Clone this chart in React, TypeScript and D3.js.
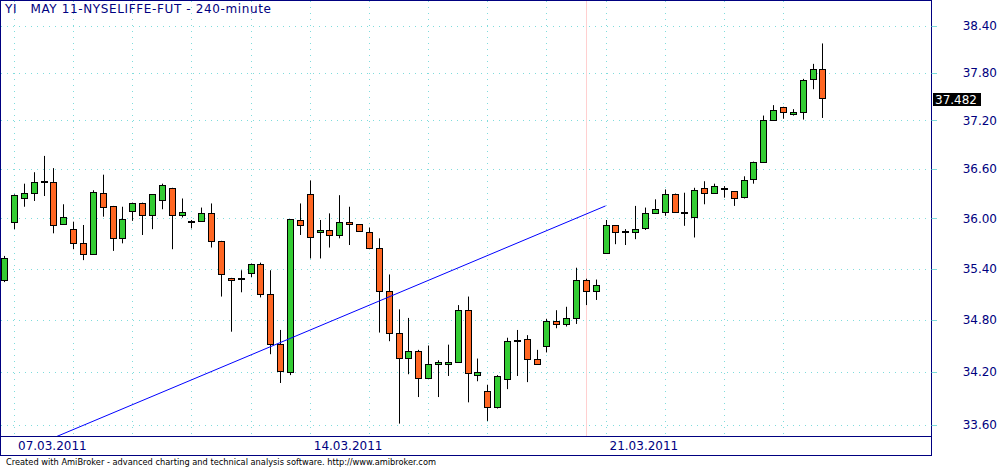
import React from 'react';
import * as d3 from 'd3';

const opens = [35.26, 35.96, 36.24, 36.31, 36.44, 36.44, 35.93, 35.87, 35.70, 35.57,
  36.31, 36.15, 35.76, 36.09, 36.19, 36.04, 36.22, 36.37, 36.04, 35.95,
  35.97, 36.07, 35.73, 35.29, 35.28, 35.35, 35.46, 35.10, 34.52, 34.20,
  35.98, 36.29, 35.84, 35.86, 35.80, 35.96, 35.93, 35.84, 35.64, 35.13,
  34.65, 34.36, 34.44, 34.13, 34.29, 34.29, 34.31, 34.91, 34.16, 33.98,
  33.80, 34.12, 34.55, 34.57, 34.34, 34.50, 34.78, 34.75, 34.82, 35.27,
  35.14, 35.59, 35.92, 35.84, 35.84, 35.88, 36.06, 36.08, 36.29, 36.08,
  36.02, 36.37, 36.31, 36.35, 36.33, 36.26, 36.48, 36.68, 37.21, 37.37,
  37.28, 37.31, 37.72, 37.84];
const highs = [35.55, 36.29, 36.42, 36.56, 36.76, 36.61, 36.17, 35.96, 35.92, 36.34,
  36.53, 36.15, 36.14, 36.19, 36.19, 36.29, 36.42, 36.37, 36.24, 35.98,
  36.13, 36.18, 35.73, 35.29, 35.38, 35.46, 35.47, 35.38, 34.68, 35.99,
  36.18, 36.46, 35.98, 36.06, 36.28, 36.14, 35.93, 35.89, 35.76, 35.33,
  34.92, 34.82, 34.45, 34.50, 34.33, 34.51, 34.97, 35.07, 34.35, 34.05,
  34.16, 34.59, 34.68, 34.62, 34.45, 34.81, 34.91, 34.95, 35.41, 35.28,
  35.27, 35.98, 35.92, 35.87, 36.15, 36.13, 36.23, 36.35, 36.30, 36.31,
  36.37, 36.45, 36.42, 36.39, 36.33, 36.51, 36.69, 37.26, 37.39, 37.37,
  37.34, 37.72, 37.91, 38.17];
const lows = [35.24, 35.87, 36.14, 36.21, 36.27, 35.82, 35.92, 35.63, 35.50, 35.57,
  36.02, 35.61, 35.70, 35.97, 35.80, 35.87, 36.11, 35.63, 36.01, 35.88,
  35.97, 35.65, 35.07, 34.66, 35.12, 35.30, 35.06, 34.40, 34.07, 34.16,
  35.80, 35.52, 35.52, 35.65, 35.76, 35.68, 35.85, 35.63, 34.65, 34.55,
  33.61, 34.17, 33.91, 34.13, 33.91, 34.15, 34.30, 33.85, 34.09, 33.64,
  33.78, 34.00, 34.15, 34.08, 34.29, 34.42, 34.70, 34.72, 34.75, 34.97,
  35.03, 35.59, 35.69, 35.68, 35.75, 35.86, 36.06, 36.03, 36.08, 35.91,
  35.77, 36.17, 36.31, 36.25, 36.15, 36.24, 36.42, 36.68, 37.21, 37.22,
  37.26, 37.21, 37.59, 37.23];
const closes = [35.53, 36.28, 36.31, 36.44, 36.44, 35.92, 36.02, 35.70, 35.57, 36.32,
  36.14, 35.76, 35.99, 36.19, 36.04, 36.29, 36.40, 36.04, 36.08, 35.95,
  36.07, 35.73, 35.33, 35.27, 35.28, 35.46, 35.10, 34.52, 34.21, 35.99,
  35.92, 35.77, 35.86, 35.80, 35.96, 35.93, 35.85, 35.64, 35.13, 34.65,
  34.36, 34.44, 34.13, 34.29, 34.31, 34.31, 34.91, 34.18, 34.20, 33.80,
  34.15, 34.55, 34.55, 34.34, 34.29, 34.79, 34.75, 34.82, 35.26, 35.14,
  35.20, 35.92, 35.84, 35.84, 35.87, 36.06, 36.11, 36.29, 36.08, 36.06,
  36.34, 36.31, 36.39, 36.35, 36.24, 36.46, 36.69, 37.20, 37.33, 37.31,
  37.31, 37.71, 37.84, 37.482];

const priceTicks = [33.6, 34.2, 34.8, 35.4, 36.0, 36.6, 37.2, 37.8, 38.4];
const dayStartBars = [1, 7, 13, 19, 25, 31, 37, 43, 49, 55, 61, 67, 73, 79];
const dateLabelBars = [1, 31, 61];
const dateLabelTexts = ['07.03.2011', '14.03.2011', '21.03.2011'];
const trendBars = [5, 61];
const trendPrices = [33.45, 36.15];
const selectorBar = 59;
const lastPrice = 37.482;
const title = 'YI   MAY 11-NYSELIFFE-FUT - 240-minute';
const credit = 'Created with AmiBroker - advanced charting and technical analysis software. http://www.amibroker.com';

const W = 1000;
const H = 467;
const plotL = 1;
const plotR = 931;
const plotT = 1;
const plotB = 436;
const navy = '#000080';
const gridCol = '#7FDCDC';
const upCol = '#33CC33';
const downCol = '#FF6622';
const font = 'DejaVu Sans, Verdana, sans-serif';

export default function App() {
  const x = d3.scaleLinear().domain([1, 79]).range([14, 783]);
  const y = d3.scaleLog().domain([33.6, 38.4]).range([424.5, 25.5]);
  const fmt = d3.format('.2f');
  const idx = d3.range(closes.length);
  const trendLine = d3.line<number>()
    .x((i) => x(trendBars[i]))
    .y((i) => y(trendPrices[i]));

  const lastY = y(lastPrice);

  return (
    <svg width={W} height={H} style={{ position: 'absolute', left: 0, top: 0, display: 'block', background: '#fff' }}>
      <defs>
        <clipPath id="plotClip">
          <rect x={plotL} y={plotT} width={plotR - plotL} height={plotB - plotT} />
        </clipPath>
      </defs>
      <rect x={0} y={0} width={W} height={H} fill="#fff" />

      {/* grid */}
      <g clipPath="url(#plotClip)">
        {priceTicks.map((t) => (
          <line key={'h' + t} x1={plotL} x2={plotR} y1={Math.round(y(t)) + 0.5} y2={Math.round(y(t)) + 0.5}
            stroke={gridCol} strokeWidth={1} strokeDasharray="1,5" />
        ))}
        {dayStartBars.map((b) => (
          <line key={'v' + b} x1={Math.round(x(b)) + 0.5} x2={Math.round(x(b)) + 0.5} y1={plotT} y2={plotB}
            stroke={gridCol} strokeWidth={1} strokeDasharray="1,5" />
        ))}
        <line x1={Math.round(x(selectorBar)) + 0.5} x2={Math.round(x(selectorBar)) + 0.5} y1={plotT} y2={plotB}
          stroke="#FFD0D0" strokeWidth={1} />
      </g>

      {/* candles */}
      <g clipPath="url(#plotClip)">
        {idx.map((i) => {
          const cx = Math.round(x(i));
          const o = opens[i];
          const c = closes[i];
          const yH = y(highs[i]);
          const yL = y(lows[i]);
          const yO = y(o);
          const yC = y(c);
          const top = Math.min(yO, yC);
          const bot = Math.max(yO, yC);
          const doji = Math.abs(bot - top) < 1;
          return (
            <g key={'c' + i}>
              <line x1={cx + 0.5} x2={cx + 0.5} y1={yH} y2={yL} stroke="#000" strokeWidth={1} />
              {doji ? (
                <rect x={cx - 3} y={Math.round(top) - 1} width={7} height={2} fill="#000" />
              ) : (
                <rect x={cx - 2.5} y={Math.round(top) + 0.5} width={6} height={Math.max(1, Math.round(bot) - Math.round(top))}
                  fill={c > o ? upCol : downCol} stroke="#000" strokeWidth={1} />
              )}
            </g>
          );
        })}
        <path d={trendLine([0, 1]) || ''} fill="none" stroke="#0000FF" strokeWidth={1} />
      </g>

      {/* frame */}
      <rect x={0.5} y={0.5} width={plotR} height={455} fill="none" stroke={navy} strokeWidth={1} />
      <line x1={0} x2={plotR + 0.5} y1={plotB + 0.5} y2={plotB + 0.5} stroke={navy} strokeWidth={1} />

      {/* title */}
      <text x={5} y={13} fontFamily={font} fontSize={12} fill={navy} textLength={266} lengthAdjust="spacing"
        style={{ whiteSpace: 'pre' }} xmlSpace="preserve">{title}</text>

      {/* right axis */}
      {priceTicks.map((t) => (
        <g key={'t' + t}>
          <line x1={plotR + 0.5} x2={plotR + 6} y1={Math.round(y(t)) + 0.5} y2={Math.round(y(t)) + 0.5} stroke={gridCol} strokeWidth={1} />
          <text x={997} y={y(t)} dy="0.35em" textAnchor="end" fontFamily={font} fontSize={12} fill={navy}>{fmt(t)}</text>
        </g>
      ))}

      {/* last price */}
      <rect x={933} y={Math.round(lastY) - 5} width={48} height={13} fill="#000" />
      <text x={935} y={Math.round(lastY) + 1.5} dy="0.35em" fontFamily={font} fontSize={12} fill="#fff">{lastPrice.toFixed(3)}</text>

      {/* date axis */}
      {dateLabelBars.map((b, k) => (
        <text key={'d' + b} x={x(b) + 4} y={450} fontFamily={font} fontSize={12} fill={navy}>{dateLabelTexts[k]}</text>
      ))}

      {/* credit */}
      <text x={6} y={465} fontFamily={font} fontSize={9} fill="#000" textLength={430} lengthAdjust="spacingAndGlyphs">{credit}</text>
    </svg>
  );
}
